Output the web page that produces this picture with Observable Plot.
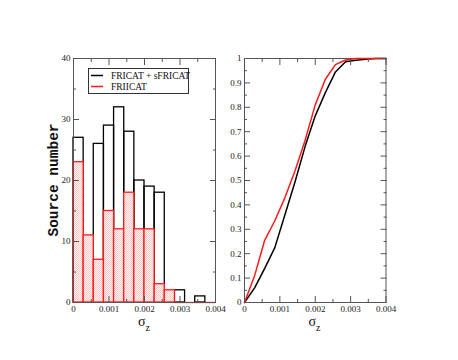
<!DOCTYPE html>
<html><head><meta charset="utf-8">
<script src="https://cdn.jsdelivr.net/npm/d3@7"></script>
<script src="https://cdn.jsdelivr.net/npm/@observablehq/plot@0.6"></script>
<style>
body{margin:0;background:#fff;}
#wrap{position:relative;width:458px;height:360px;overflow:hidden;}
#wrap svg{position:absolute;left:0;top:0;}
</style></head><body><div id="wrap"></div>
<script>
// ---- data ----
const binEdges = [0, 0.000286, 0.000571, 0.000857, 0.001143, 0.001429, 0.001714, 0.002,
                  0.002286, 0.002571, 0.002857, 0.003143, 0.003429, 0.003714, 0.004];
const fricatCounts  = [27, 0, 26, 29, 32, 28, 20, 19, 18, 0, 2, 0, 1, 0];
const friicatCounts = [23, 11, 7, 15, 12, 18, 12, 12, 3, 2, 0, 0, 0, 0];
const fricatCdf  = [0, 0.06, 0.14, 0.225, 0.36, 0.495, 0.64, 0.765, 0.86, 0.945, 0.987, 0.993, 0.997, 1.0, 1.0];
const friicatCdf = [0, 0.11, 0.255, 0.335, 0.43, 0.54, 0.665, 0.81, 0.915, 0.975, 0.994, 1.0, 1.0, 1.0, 1.0];
const seriesNames = ["FRICAT + sFRICAT", "FRIICAT"];
const seriesColors = ["#000000", "#ff1a1a"];
const xTicks = [0, 0.001, 0.002, 0.003, 0.004];
const xMinor = [0.0005, 0.0015, 0.0025, 0.0035];
const yTicksLeft = [0, 10, 20, 30, 40];
const yMinorLeft = [5, 15, 25, 35];
const yTicksRight = [0, 0.1, 0.2, 0.3, 0.4, 0.5, 0.6, 0.7, 0.8, 0.9, 1];
const yMinorRight = [0.05, 0.15, 0.25, 0.35, 0.45, 0.55, 0.65, 0.75, 0.85, 0.95];
const yLabelLeft = "Source number";
const xLabelMain = "σ", xLabelSub = "z";

// ---- tables ----
const bins = fricatCounts.map((c, i) => ({x1: binEdges[i], x2: binEdges[i + 1], a: c, b: friicatCounts[i]}));
const cdfRows = binEdges.flatMap((x, i) => [
  {x, y: fricatCdf[i], s: seriesNames[0]},
  {x, y: friicatCdf[i], s: seriesNames[1]}
]);

const W = 458, H = 360;
const serif = "'Liberation Serif', 'Times New Roman', serif";
const xFmt = d => d === 0 ? "0" : d.toFixed(3);
const empty = () => "";

function axes(yT, yM, yFmt) {
  return [
    Plot.axisX({anchor: "bottom", ticks: xTicks, tickSize: 0, tickPadding: 3, tickFormat: xFmt, label: null, fill: "#222"}),
    Plot.axisX({anchor: "bottom", ticks: xTicks, tickSize: -6, tickFormat: empty, label: null, stroke: "#555"}),
    Plot.axisX({anchor: "bottom", ticks: xMinor, tickSize: -3, tickFormat: empty, label: null, stroke: "#555"}),
    Plot.axisX({anchor: "top", ticks: xTicks, tickSize: -6, tickFormat: empty, label: null, stroke: "#555"}),
    Plot.axisX({anchor: "top", ticks: xMinor, tickSize: -3, tickFormat: empty, label: null, stroke: "#555"}),
    Plot.axisY({anchor: "left", ticks: yT, tickSize: 0, tickPadding: 3, tickFormat: yFmt, label: null, fill: "#222"}),
    Plot.axisY({anchor: "left", ticks: yT, tickSize: -6, tickFormat: empty, label: null, stroke: "#555"}),
    Plot.axisY({anchor: "left", ticks: yM, tickSize: -3, tickFormat: empty, label: null, stroke: "#555"}),
    Plot.axisY({anchor: "right", ticks: yT, tickSize: -6, tickFormat: empty, label: null, stroke: "#555"}),
    Plot.axisY({anchor: "right", ticks: yM, tickSize: -3, tickFormat: empty, label: null, stroke: "#555"})
  ];
}

const baseStyle = {background: "transparent", overflow: "visible", fontFamily: serif, fontSize: "9px", color: "#222"};

const left = Plot.plot({
  width: W, height: H,
  marginLeft: 73, marginRight: W - 215, marginTop: 58, marginBottom: 58,
  style: baseStyle,
  x: {domain: [0, 0.004]},
  y: {domain: [0, 40]},
  marks: [
    Plot.rectY(bins, {x1: "x1", x2: "x2", y: "a", fill: "none", stroke: seriesColors[0], strokeWidth: 1.3}),
    Plot.rectY(bins.filter(d => d.b > 0), {x1: "x1", x2: "x2", y: "b", fill: "url(#pinkCheck)", stroke: seriesColors[1], strokeWidth: 1.3}),
    Plot.ruleY(bins.filter(d => d.b === 0), {y: 0, x1: "x1", x2: "x2", stroke: seriesColors[1], strokeWidth: 1.3}),
    Plot.frame({stroke: "#555", strokeWidth: 1}),
    ...axes(yTicksLeft, yMinorLeft, d => String(d))
  ]
});

const right = Plot.plot({
  width: W, height: H,
  marginLeft: 244, marginRight: W - 385.5, marginTop: 58, marginBottom: 58,
  style: baseStyle,
  x: {domain: [0, 0.004]},
  y: {domain: [0, 1]},
  color: {domain: seriesNames, range: seriesColors},
  marks: [
    Plot.frame({stroke: "#555", strokeWidth: 1}),
    Plot.line(cdfRows, {x: "x", y: "y", z: "s", stroke: "s", strokeWidth: 1.5}),
    ...axes(yTicksRight, yMinorRight, d => d === 0 ? "0" : d === 1 ? "1" : d.toFixed(1))
  ]
});

// pattern fill for FRIICAT bars
const defs = d3.select(left).insert("defs", ":first-child");
const pat = defs.append("pattern").attr("id", "pinkCheck").attr("width", 2).attr("height", 2).attr("patternUnits", "userSpaceOnUse");
pat.append("rect").attr("width", 2).attr("height", 2).attr("fill", "#fff6f6");
pat.append("rect").attr("width", 1).attr("height", 1).attr("fill", "#ffc6c6");
pat.append("rect").attr("x", 1).attr("y", 1).attr("width", 1).attr("height", 1).attr("fill", "#ffc6c6");

// legend
const lg = d3.select(left).append("g");
lg.append("rect").attr("x", 88.5).attr("y", 68.5).attr("width", 100).attr("height", 25)
  .attr("fill", "#fff").attr("stroke", "#333").attr("stroke-width", 1);
seriesNames.forEach((name, i) => {
  const yy = 75.5 + i * 11;
  lg.append("line").attr("x1", 91).attr("x2", 103).attr("y1", yy).attr("y2", yy)
    .attr("stroke", seriesColors[i]).attr("stroke-width", 1.5);
  lg.append("text").attr("x", 111).attr("y", yy + 3.2).attr("text-anchor", "start")
    .attr("font-family", serif).attr("font-size", 9.5).attr("fill", "#111").text(name);
});

// axis titles
function sigma(svg, cx) {
  const t = d3.select(svg).append("text").attr("x", cx).attr("y", 326).attr("text-anchor", "middle")
    .attr("font-family", serif).attr("font-size", 14).attr("fill", "#111");
  t.append("tspan").text(xLabelMain);
  t.append("tspan").attr("font-size", 10).attr("dy", 5).text(xLabelSub);
}
sigma(left, 144);
sigma(right, 314.5);
d3.select(left).append("text").attr("transform", "translate(58,180) rotate(-90)")
  .attr("text-anchor", "middle").attr("font-family", "'Liberation Mono', 'Courier New', monospace")
  .attr("font-weight", "bold").attr("font-size", 14.5).attr("fill", "#111").text(yLabelLeft);

const wrap = document.getElementById("wrap");
wrap.appendChild(left);
wrap.appendChild(right);
</script></body></html>
